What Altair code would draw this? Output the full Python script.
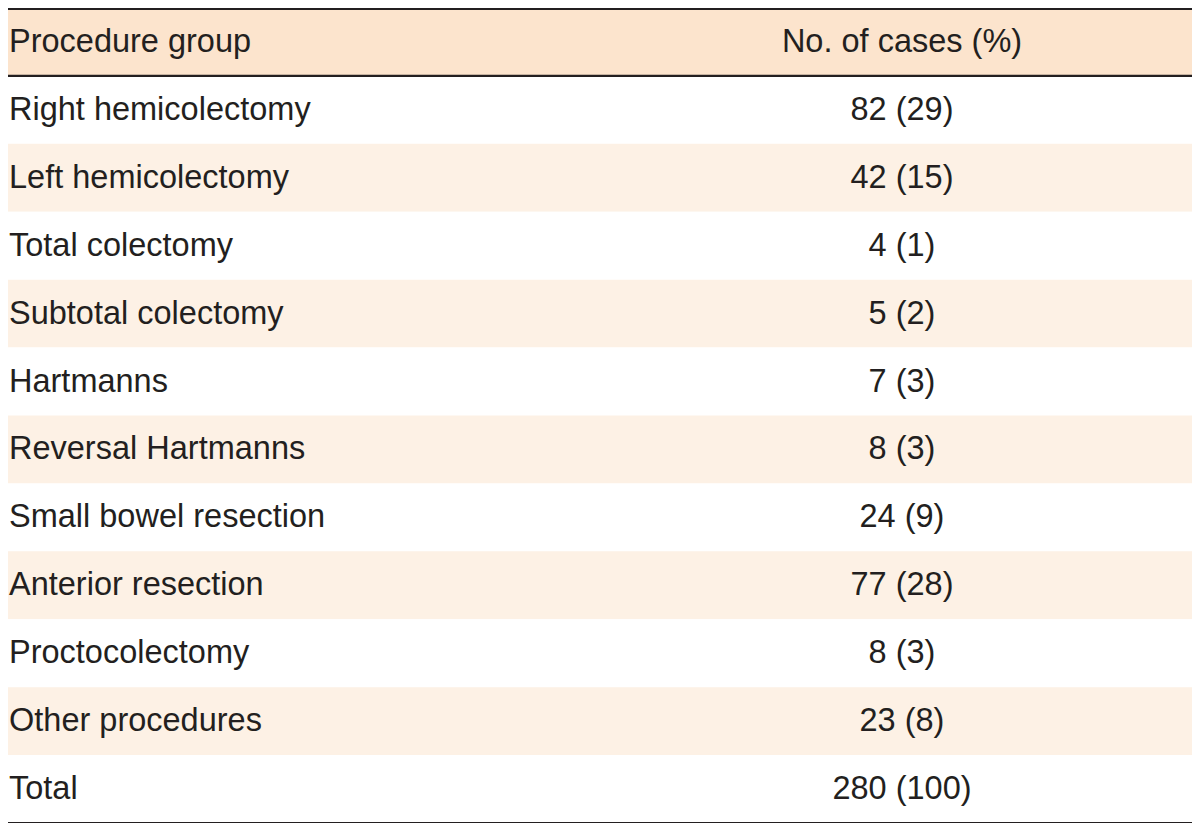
import altair as alt
import pandas as pd

header = ["Procedure group", "No. of cases (%)"]
procedures = [
    "Right hemicolectomy", "Left hemicolectomy", "Total colectomy",
    "Subtotal colectomy", "Hartmanns", "Reversal Hartmanns",
    "Small bowel resection", "Anterior resection", "Proctocolectomy",
    "Other procedures", "Total",
]
cases = [82, 42, 4, 5, 7, 8, 24, 77, 8, 23, 280]
percents = [29, 15, 1, 2, 3, 3, 9, 28, 3, 8, 100]

W, H = 1184, 815
FONT = "Liberation Sans, Arial, Helvetica, sans-serif"
FS = 32.5
TXT = "#231F20"

rows = [header[0]] + procedures
kinds = ["header"] + ["shade" if i % 2 == 1 else "plain" for i in range(len(procedures))]
values = [header[1]] + [f"{c} ({p})" for c, p in zip(cases, percents)]
df = pd.DataFrame({"row": rows, "kind": kinds, "value": values})

yscale = alt.Scale(domain=rows, paddingInner=0, paddingOuter=0)
base = alt.Chart(df)

bg = base.mark_rect().encode(
    x=alt.value(0), x2=alt.value(W),
    y=alt.Y("row:N", scale=yscale, axis=None),
    color=alt.Color("kind:N", scale=alt.Scale(domain=["header", "shade", "plain"],
                                               range=["#FCE4CD", "#FDF1E5", "#FFFFFF"]),
                    legend=None),
)

labels = base.mark_text(align="left", baseline="middle", font=FONT, fontSize=FS,
                        color=TXT, dy=0).encode(
    x=alt.value(1),
    y=alt.Y("row:N", scale=yscale, axis=None, bandPosition=0.5),
    text="row:N",
)
vals = base.mark_text(align="center", baseline="middle", font=FONT, fontSize=FS,
                      color=TXT, dy=0).encode(
    x=alt.value(894),
    y=alt.Y("row:N", scale=yscale, axis=None, bandPosition=0.5),
    text="value:N",
)

top_rule = alt.Chart(pd.DataFrame({"row": [rows[0]]})).mark_rule(
    color=TXT, strokeWidth=4).encode(
    x=alt.value(0), x2=alt.value(W),
    y=alt.Y("row:N", scale=yscale, axis=None, bandPosition=0),
)
mid_rule = alt.Chart(pd.DataFrame({"row": [rows[0], rows[-1]]})).mark_rule(
    color=TXT, strokeWidth=2.2).encode(
    x=alt.value(0), x2=alt.value(W),
    y=alt.Y("row:N", scale=yscale, axis=None, bandPosition=1),
)

chart = alt.layer(bg, labels, vals, top_rule, mid_rule).properties(
    width=W, height=H, padding=0, autosize=alt.AutoSizeParams(type="none")
).configure_view(strokeWidth=0).resolve_scale(y="shared")

chart.save("out.html", embed_options={"renderer": "svg", "actions": False})
